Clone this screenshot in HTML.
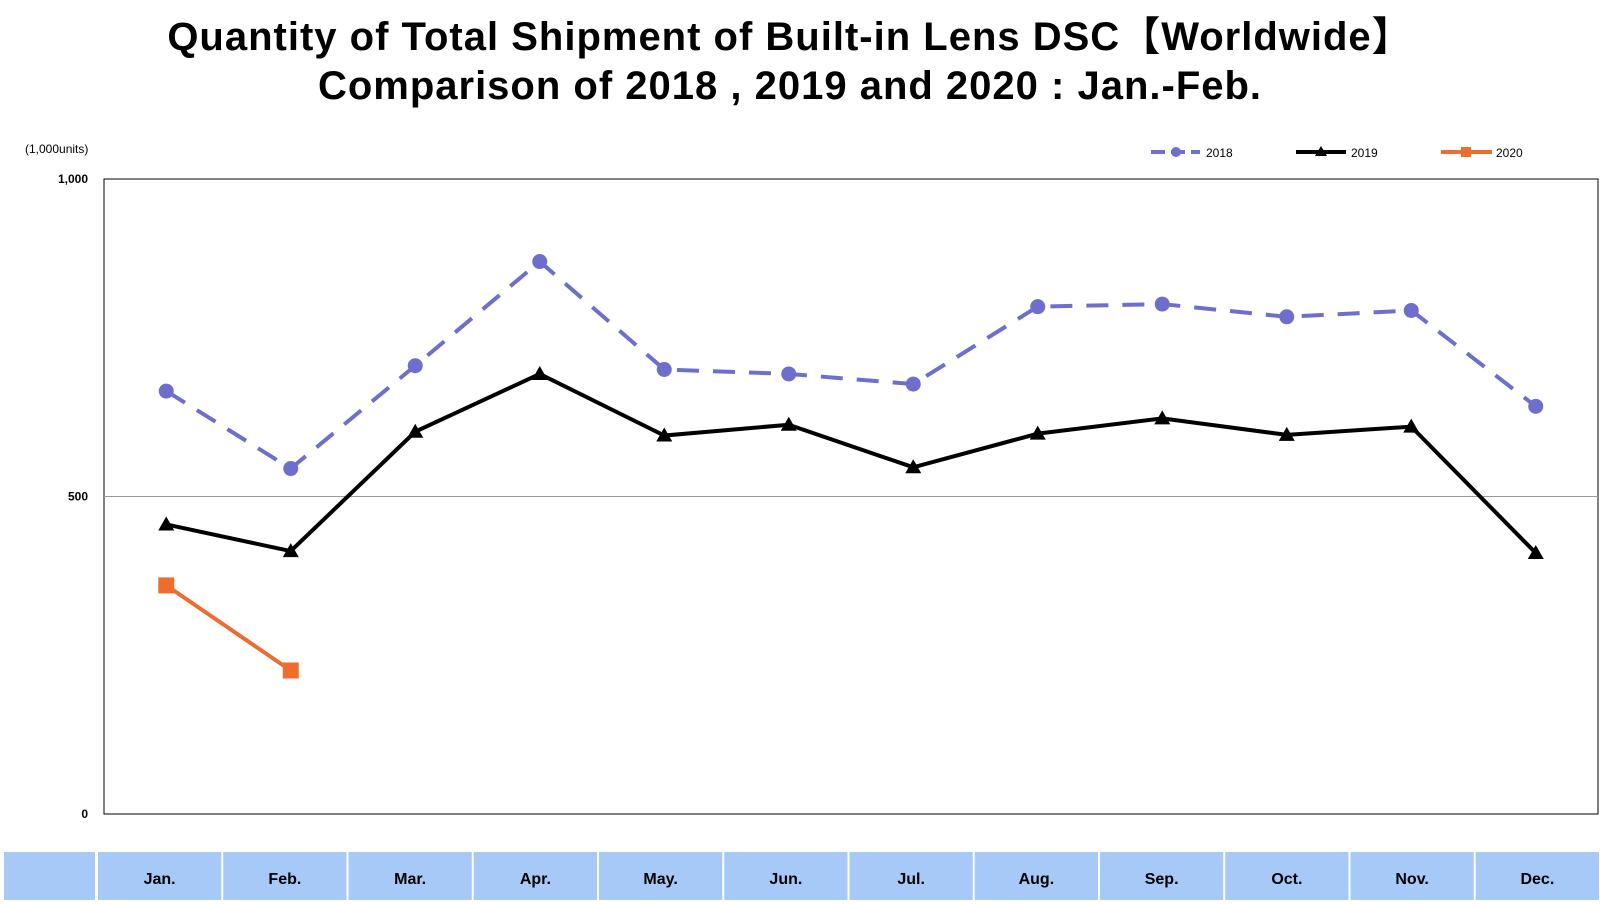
<!DOCTYPE html>
<html><head><meta charset="utf-8"><style>
body{margin:0;width:1600px;height:900px;background:#fff;overflow:hidden;font-family:"Liberation Sans","Noto Sans CJK JP",sans-serif}
</style></head><body>
<svg width="1600" height="900" id="chart" font-family="Liberation Sans, Noto Sans CJK JP, sans-serif">
<text x="790" y="50" font-size="40" font-weight="bold" letter-spacing="1" text-anchor="middle">Quantity of Total Shipment of Built-in Lens DSC【Worldwide】</text>
<text x="790" y="99" font-size="40" font-weight="bold" letter-spacing="1" text-anchor="middle">Comparison of 2018 , 2019 and 2020 : Jan.-Feb.</text>
<text x="25" y="153" font-size="12">(1,000units)</text>
<g>
<line x1="1151" y1="152" x2="1200" y2="152" stroke="#6e6ecc" stroke-width="4" stroke-dasharray="14,6"/><circle cx="1176" cy="152" r="5" fill="#6e6ecc"/><text x="1206" y="157" font-size="12">2018</text>
<line x1="1296" y1="152" x2="1346" y2="152" stroke="#000" stroke-width="4"/><polygon points="1321,146 1327,156 1315,156" fill="#000"/><text x="1351" y="157" font-size="12">2019</text>
<line x1="1441" y1="152" x2="1492" y2="152" stroke="#ed6d2e" stroke-width="4"/><rect x="1461" y="147" width="10" height="10" fill="#ed6d2e"/><text x="1496" y="157" font-size="12">2020</text>
</g>
<rect x="104" y="179" width="1494" height="635" fill="none" stroke="#000" stroke-width="1"/>
<g id="axes"></g><g id="series"></g><g id="table"></g>
</svg>
<script>
const months=["Jan.","Feb.","Mar.","Apr.","May.","Jun.","Jul.","Aug.","Sep.","Oct.","Nov.","Dec."];
const s2018=[666,544,706,870,700,693,677,799,803,783,793,642];
const s2019=[456,414,602,693,596,613,546,599,623,597,610,411];
const s2020=[360,226];
const yTicks=[0,500,1000];
const yTickLabels=["0","500","1,000"];
const NS="http://www.w3.org/2000/svg";
const X0=104,W=1494,Y0=814,H=635;
const xs=i=>X0+W/12*(i+0.5);
const ys=v=>Y0-v/1000*H;
function mk(t,a,p){const e=document.createElementNS(NS,t);for(const k in a)e.setAttribute(k,a[k]);p.appendChild(e);return e;}
const ax=document.getElementById('axes');
yTicks.forEach((v,i)=>{
 if(v>0&&v<1000){const g=mk('line',{x1:X0,x2:X0+W,y1:ys(v),y2:ys(v),stroke:'#999','stroke-width':1},ax);
 
 }
 const t=mk('text',{x:88,y:ys(v)+4,'font-size':12,'font-weight':'bold','text-anchor':'end'},ax);t.textContent=yTickLabels[i];
 
 
});
const se=document.getElementById('series');
function series(vals,color,dash,marker,name){
 const pl=mk('polyline',{points:vals.map((v,i)=>xs(i)+','+ys(v)).join(' '),fill:'none',stroke:color,'stroke-width':4,'stroke-dasharray':dash||'none'},se);
 
 
 vals.forEach((v,i)=>{const x=xs(i),y=ys(v);let m;
  if(marker==='c')m=mk('circle',{cx:x,cy:y,r:7.5,fill:color},se);
  else if(marker==='t')m=mk('polygon',{points:`${x},${y-8} ${x+8},${y+6} ${x-8},${y+6}`,fill:color},se);
  else m=mk('rect',{x:x-8,y:y-8,width:16,height:16,fill:color},se);
  
  });
}
series(s2018,'#6e6ecc','22,14','c','2018');
series(s2019,'#000',null,'t','2019');
series(s2020,'#ed6d2e',null,'s','2020');
const tb=document.getElementById('table');
const c0=mk('rect',{x:4,y:852,width:91,height:48,fill:'#a6c9f8'},tb);


months.forEach((m,i)=>{const cw=(1600-97)/12,x=97+cw*i;
 const r=mk('rect',{x:x+1,y:852,width:cw-2,height:48,fill:'#a6c9f8'},tb);
 
 
 const t=mk('text',{x:x+cw/2,y:884,'font-size':16,'font-weight':'bold','text-anchor':'middle'},tb);t.textContent=m;
 
 
});
</script>
</body></html>
